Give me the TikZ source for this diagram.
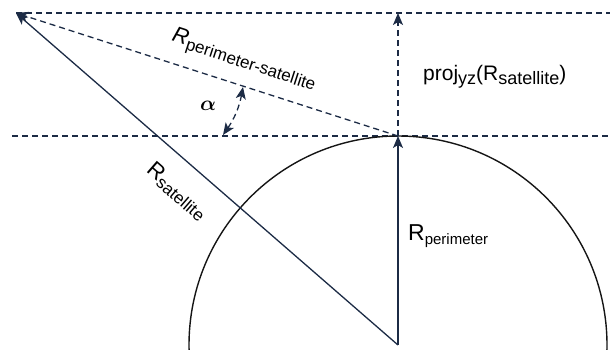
\documentclass[tikz,border=0pt]{standalone}
\usepackage{fontspec}
\usepackage{amsmath}
\setmainfont{Liberation Sans}
\usetikzlibrary{arrows.meta}
\definecolor{navy}{HTML}{1C2B45}
\definecolor{ink}{HTML}{151515}
\newcommand\mysub[2]{\raisebox{-4pt}{\fontsize{#1}{#1}\selectfont #2}}
\newcommand\mymain[2]{{\fontsize{#1}{#1}\selectfont #2}}
\tikzset{
  vec/.style={navy, line width=1.3pt, -{Stealth[length=12pt,width=10pt,inset=3pt]}},
  dvec/.style={vec, dash pattern=on 6pt off 4pt},
  dvec2/.style={navy, line width=1.3pt, dash pattern=on 6pt off 4pt, {Stealth[length=12pt,width=10pt,inset=3pt]}-{Stealth[length=12pt,width=10pt,inset=3pt]}},
  guide/.style={navy, line width=1.3pt, dash pattern=on 6pt off 4pt},
  lbl/.style={inner sep=0pt, text=black}
}
\begin{document}
\begin{tikzpicture}[x=1pt,y=-1pt]
\clip (0,0) rectangle (610,349);
\coordinate (O) at (398,345);
\coordinate (P) at (398,136);
\coordinate (S) at (16,13);
\coordinate (T) at (398,13);
\coordinate (TR) at (610,13);
\coordinate (ML) at (12,136);
\coordinate (MR) at (610,136);
\coordinate (A1) at (223,135);
\coordinate (A2) at (243,87);
% guides
\draw[guide] (S) -- (TR);
\draw[guide] (ML) -- (MR);
% circle
\draw[ink, line width=1.4pt] (O) circle[radius=209];
% vectors
\draw[vec] (O) -- (S);
\draw[vec] (O) -- (P);
\draw[dvec] (P) -- (T);
\draw[dvec] (P) -- (S);
\draw[dvec2] (A1) to[bend right=12] (A2);
% labels
\node[lbl, rotate=-18] (lps) at (244,60) {\mymain{22}{\itshape R}\mysub{17}{perimeter-satellite}};
\node[lbl, anchor=base west] (lproj) at (423,80) {\mymain{21}{proj}\mysub{18}{yz}\mymain{21}{(R}\mysub{18}{satellite}\mymain{21}{)}};
\node[lbl, anchor=base west] (lper) at (408,240) {\mymain{23}{R}\mysub{15}{perimeter}};
\node[lbl, rotate=-41] (lsat) at (177,191) {\mymain{22}{R}\mysub{17}{satellite}};
\node[lbl] (alpha) at (208,106) {\scalebox{2.1}{$\boldsymbol{\alpha}$}};
\end{tikzpicture}
\end{document}
